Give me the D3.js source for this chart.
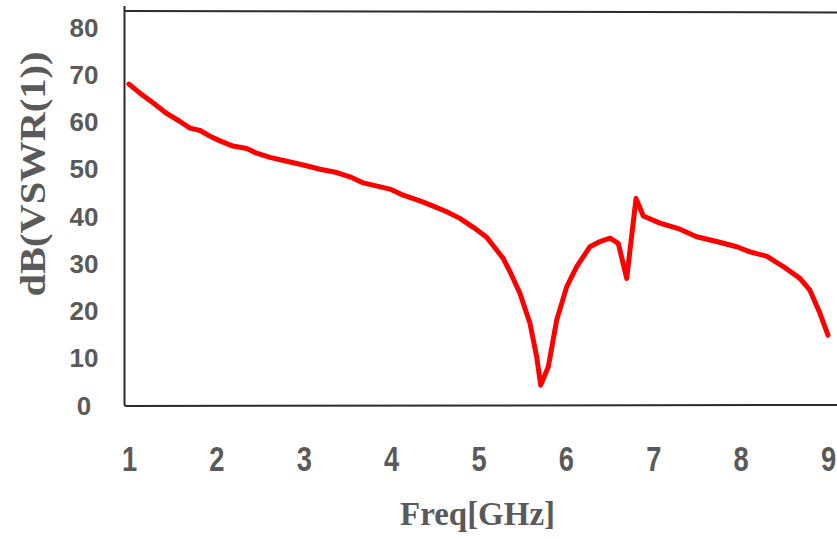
<!DOCTYPE html>
<html>
<head>
<meta charset="utf-8">
<script src="https://cdn.jsdelivr.net/npm/d3@7"></script>
<style>
  html, body { margin: 0; padding: 0; background: #fff; }
  svg { display: block; }
</style>
</head>
<body>
<svg id="chart" width="837" height="539"></svg>
<script>
// Frequency sweep (GHz) and the corresponding dB(VSWR(1)) response
const freq = [1.0, 1.126, 1.278, 1.431, 1.584, 1.698, 1.813, 1.927, 2.041, 2.19, 2.347, 2.461, 2.614, 2.805, 2.995,
  3.186, 3.377, 3.529, 3.682, 3.987, 4.139, 4.33, 4.483, 4.636, 4.788, 4.941, 5.094, 5.208, 5.284, 5.361, 5.475,
  5.589, 5.666, 5.712, 5.799, 5.895, 6.009, 6.124, 6.276, 6.39, 6.505, 6.6, 6.696, 6.803, 6.886, 7.077, 7.306,
  7.497, 7.726, 7.955, 8.107, 8.298, 8.488, 8.679, 8.793, 8.908, 9.0];
const vswrDb = [67.9, 66.0, 63.9, 61.7, 60.0, 58.6, 58.1, 56.9, 55.9, 54.8, 54.3, 53.3, 52.4, 51.6, 50.8,
  49.9, 49.2, 48.3, 47.0, 45.7, 44.4, 43.2, 42.1, 40.9, 39.5, 37.6, 35.5, 32.8, 31.0, 28.2, 23.6,
  17.3, 10.2, 4.2, 8.1, 18.0, 25.0, 29.3, 33.5, 34.6, 35.3, 34.2, 26.8, 43.7, 40.0, 38.5, 37.2,
  35.6, 34.6, 33.5, 32.4, 31.5, 29.3, 26.8, 24.3, 19.4, 14.8];

const xTicks = [1, 2, 3, 4, 5, 6, 7, 8, 9];
const yTicks = [0, 10, 20, 30, 40, 50, 60, 70, 80];

const xTitle = "Freq[GHz]";
const yTitle = "dB(VSWR(1))";

const svg = d3.select("#chart");
const labelColor = "#5a5a5a";

// plot frame bounds
const frameLeft = 124.5, frameTop = 11, frameBottom = 406, frameRight = 837;

const x = d3.scaleLinear().domain([1, 9]).range([129, 828]);
const y = d3.scaleLinear().domain([0, 80]).range([405, 27]);

// frame: top, left, bottom (open on the right)
const frame = svg.append("g").attr("fill", "none").attr("stroke", "#2b2b2b").attr("stroke-width", 2);
frame.append("path")
  .attr("d", `M${frameRight},${frameTop + 1.5} L${frameLeft},${frameTop} `);
frame.append("path")
  .attr("d", `M${frameLeft},6 L${frameLeft},${frameBottom - 2} Q${frameLeft},${frameBottom} ${frameLeft + 2},${frameBottom} L${frameRight},${frameBottom - 1}`);

// y axis labels
const yAxis = d3.axisLeft(y).tickValues(yTicks).tickSize(0).tickFormat(d3.format("d"));
const yg = svg.append("g").attr("transform", "translate(84,0)").call(yAxis);
yg.select(".domain").remove();
yg.selectAll("text")
  .attr("x", 0)
  .attr("dy", "0.35em")
  .attr("text-anchor", "middle")
  .attr("fill", labelColor)
  .style("font-family", "'Liberation Sans', Arial, sans-serif")
  .style("font-weight", "bold")
  .style("font-size", "26px");

// x axis labels (narrowed glyphs)
const xAxis = d3.axisBottom(x).tickValues(xTicks).tickSize(0).tickFormat(d3.format("d"));
const xg = svg.append("g").attr("transform", "translate(0,446)").call(xAxis);
xg.select(".domain").remove();
xg.selectAll("text")
  .attr("y", 0)
  .attr("dy", "0.71em")
  .attr("transform", "scale(0.78,1)")
  .attr("fill", labelColor)
  .style("font-family", "'Liberation Sans', Arial, sans-serif")
  .style("font-weight", "bold")
  .style("font-size", "35px");

// axis titles
svg.append("text")
  .attr("transform", "translate(45,174) rotate(-90)")
  .attr("text-anchor", "middle")
  .attr("textLength", 245)
  .attr("lengthAdjust", "spacingAndGlyphs")
  .attr("fill", labelColor)
  .style("font-family", "'Liberation Serif', 'Times New Roman', serif")
  .style("font-weight", "bold")
  .style("font-size", "36px")
  .text(yTitle);

svg.append("text")
  .attr("x", 477.5)
  .attr("y", 525)
  .attr("text-anchor", "middle")
  .attr("textLength", 155)
  .attr("lengthAdjust", "spacingAndGlyphs")
  .attr("fill", labelColor)
  .style("font-family", "'Liberation Serif', 'Times New Roman', serif")
  .style("font-weight", "bold")
  .style("font-size", "34px")
  .text(xTitle);

// response curve
const points = freq.map((f, i) => [f, vswrDb[i]]);
const line = d3.line().x(d => x(d[0])).y(d => y(d[1]));
svg.append("path")
  .datum(points)
  .attr("d", line)
  .attr("fill", "none")
  .attr("stroke", "#ff0000")
  .attr("stroke-width", 5)
  .attr("stroke-linejoin", "round")
  .attr("stroke-linecap", "round");
</script>
</body>
</html>
